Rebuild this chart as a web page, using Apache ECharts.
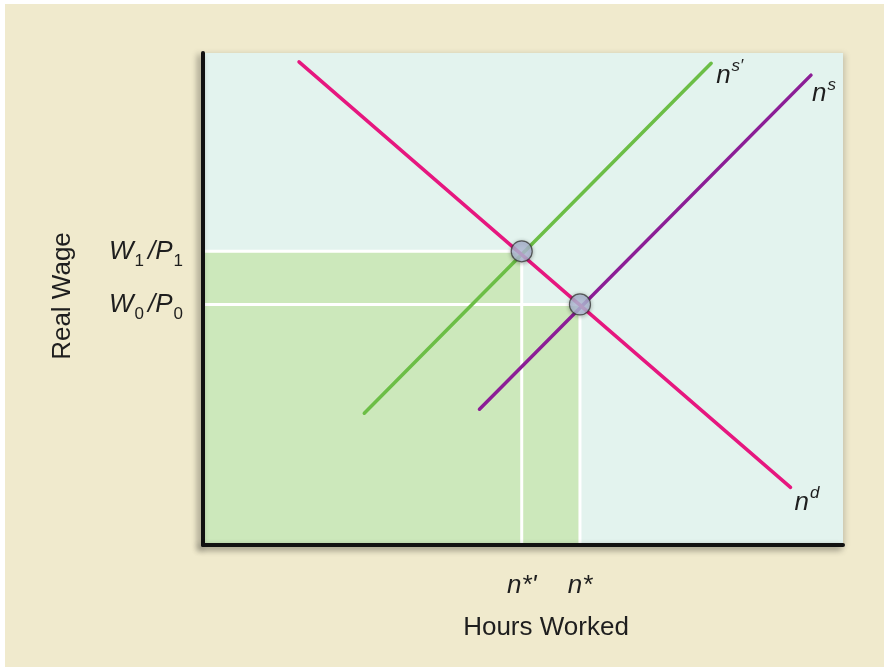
<!DOCTYPE html>
<html>
<head>
<meta charset="utf-8">
<script src="https://cdn.jsdelivr.net/npm/echarts@6/dist/echarts.min.js"></script>
<style>
  html, body { margin: 0; padding: 0; background: #ffffff; }
  #chart { width: 884px; height: 667px; }
</style>
</head>
<body>
<div id="chart"></div>
<script>
// Labour market: demand for labour and a leftward shift of labour supply.
// Coordinates are in abstract units: hours worked (x) and real wage (y), both 0..100.
const demandLine = [[15, 98.2], [91.8, 11.7]];          // n^d
const supplyShiftedLine = [[25.2, 26.8], [79.4, 97.9]]; // n^s'
const supplyLine = [[43.2, 27.6], [95.0, 95.5]];        // n^s
const eqNew = [49.8, 59.7];  // (n*', W1/P1)
const eqOld = [58.9, 48.9];  // (n*,  W0/P0)
const xTickLabels = ["n*'", 'n*'];
const yTickLabels = ['{b|W}{s|0}{sl|/}{b|P}{s|0}', '{b|W}{s|1}{sl|/}{b|P}{s|1}'];
const curveLabels = {
  demand: '{b|n}{p|d}',
  supplyShifted: "{b|n}{p|s\u2032}",
  supply: '{b|n}{p|s}'
};

const FONT = 'Liberation Sans, Arial, sans-serif';
const TEXT = '#1e1e1e';
const richScript = {
  b:  { fontFamily: FONT, fontStyle: 'italic', fontSize: 26, color: TEXT },
  s:  { fontFamily: FONT, fontSize: 17, color: TEXT, padding: [20, 0, 0, 1] },
  sl: { fontFamily: FONT, fontStyle: 'italic', fontSize: 26, color: TEXT, padding: [0, 0, 0, 4] },
  p:  { fontFamily: FONT, fontStyle: 'italic', fontSize: 17, color: TEXT, padding: [0, 0, 18, 1] }
};

// Union of the two rectangles under the equilibria, traced as one outline.
const shadedOutline = [
  [0, eqNew[1]], [eqNew[0], eqNew[1]], [eqNew[0], eqOld[1]],
  [eqOld[0], eqOld[1]], [eqOld[0], 0]
];
const guideNew = [[0, eqNew[1]], [eqNew[0], eqNew[1]], [eqNew[0], 0]];
const guideOld = [[0, eqOld[1]], [eqOld[0], eqOld[1]], [eqOld[0], 0]];

const axisLineStyle = {
  color: '#111111', width: 4,
  shadowBlur: 6, shadowColor: 'rgba(0,0,0,0.45)', shadowOffsetX: -3, shadowOffsetY: 3
};

function curve(data, color, label, offset) {
  return {
    type: 'line', data: data, symbol: 'none', silent: true, z: 4,
    lineStyle: { color: color, width: 3.5, cap: 'round' },
    endLabel: {
      show: true, distance: 0, offset: offset,
      formatter: () => label, rich: richScript
    }
  };
}

const chart = echarts.init(document.getElementById('chart'), null, { renderer: 'canvas' });
chart.setOption({
  backgroundColor: '#F0EACD',
  animation: false,
  graphic: [
    { type: 'rect', shape: { x: 0, y: 0, width: 884, height: 4 }, style: { fill: '#ffffff' } },
    { type: 'rect', shape: { x: 0, y: 0, width: 5, height: 667 }, style: { fill: '#ffffff' } },
    { type: 'text', x: 63, y: 296, rotation: Math.PI / 2,
      style: { text: 'Real Wage', font: '26px ' + FONT, fill: TEXT, align: 'center', verticalAlign: 'middle' } },
    { type: 'text', x: 546, y: 628,
      style: { text: 'Hours Worked', font: '26px ' + FONT, fill: TEXT, align: 'center', verticalAlign: 'middle' } }
  ],
  grid: {
    left: 203, right: 41, top: 53, bottom: 122,
    show: true, backgroundColor: '#E3F3EE', borderWidth: 0,
    shadowBlur: 6, shadowColor: 'rgba(0,0,0,0.18)', shadowOffsetX: 2, shadowOffsetY: 1
  },
  xAxis: {
    type: 'value', min: 0, max: 100, z: 10,
    axisLine: { show: true, onZero: false, lineStyle: axisLineStyle },
    axisTick: { show: false },
    splitLine: { show: false },
    axisLabel: {
      customValues: [eqNew[0], eqOld[0]],
      margin: 28,
      fontFamily: FONT, fontStyle: 'italic', fontSize: 26, color: TEXT,
      formatter: (v) => (v === eqNew[0] ? xTickLabels[0] : xTickLabels[1])
    }
  },
  yAxis: {
    type: 'value', min: 0, max: 100, z: 10,
    axisLine: { show: true, onZero: false, lineStyle: axisLineStyle },
    axisTick: { show: false },
    splitLine: { show: false },
    axisLabel: {
      customValues: [eqOld[1], eqNew[1]],
      margin: 20,
      rich: richScript,
      formatter: (v) => (v === eqNew[1] ? yTickLabels[1] : yTickLabels[0])
    }
  },
  series: [
    {
      type: 'line', data: shadedOutline, symbol: 'none', silent: true, z: 1,
      lineStyle: { width: 0 },
      areaStyle: { color: '#CCE8BB', opacity: 1 }
    },
    {
      type: 'line', data: guideNew, symbol: 'none', silent: true, z: 2,
      lineStyle: { color: '#ffffff', width: 3 }
    },
    {
      type: 'line', data: guideOld, symbol: 'none', silent: true, z: 2,
      lineStyle: { color: '#ffffff', width: 3 }
    },
    curve(supplyShiftedLine, '#6CBE46', curveLabels.supplyShifted, [5, 12]),
    curve(supplyLine, '#8C1E96', curveLabels.supply, [1, 19]),
    curve(demandLine, '#E6177F', curveLabels.demand, [4, 15]),
    {
      type: 'scatter', data: [eqNew, eqOld], symbol: 'circle', symbolSize: 21, silent: true, z: 6,
      itemStyle: {
        color: '#B6C1DD', borderColor: '#3a3a3a', borderWidth: 1.2,
        shadowBlur: 4, shadowColor: 'rgba(0,0,0,0.35)', shadowOffsetX: 0, shadowOffsetY: 1
      }
    }
  ]
});
</script>
</body>
</html>
